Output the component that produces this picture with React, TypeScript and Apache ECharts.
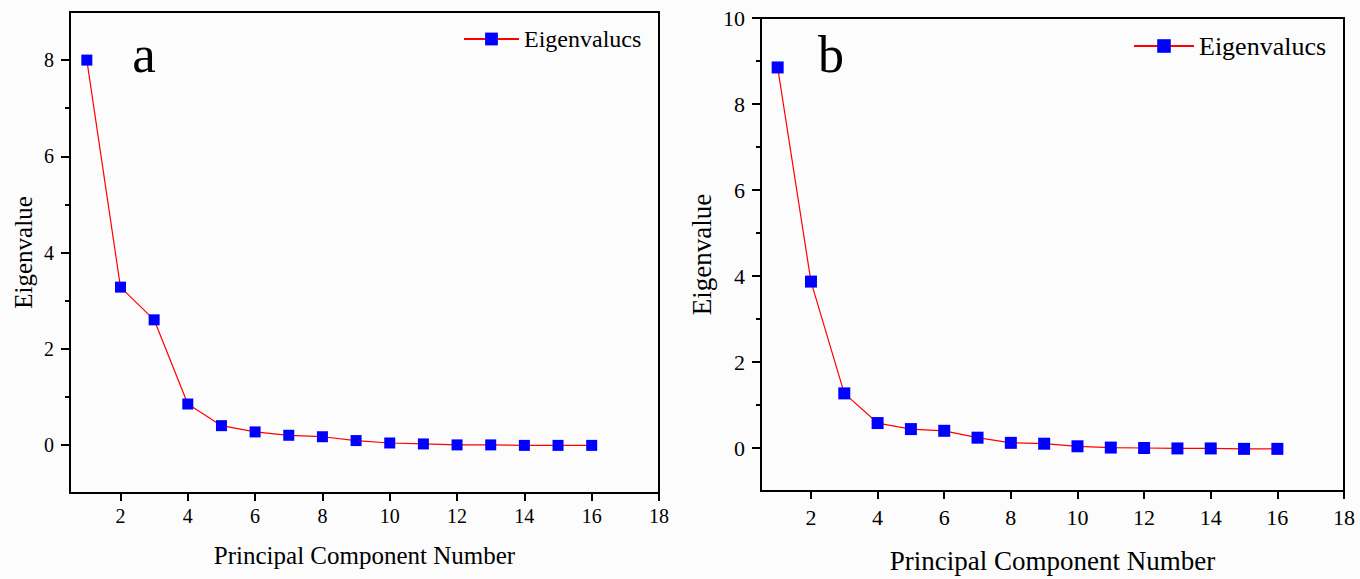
import React, { useEffect, useRef } from "react";
import * as echarts from "echarts";

const componentsA = [1, 2, 3, 4, 5, 6, 7, 8, 9, 10, 11, 12, 13, 14, 15, 16];
const eigenA = [8.0, 3.28, 2.6, 0.85, 0.4, 0.27, 0.2, 0.17, 0.09, 0.04, 0.02, 0.0, 0.0, -0.01, -0.01, -0.01];
const componentsB = [1, 2, 3, 4, 5, 6, 7, 8, 9, 10, 11, 12, 13, 14, 15, 16];
const eigenB = [8.85, 3.87, 1.27, 0.58, 0.44, 0.4, 0.24, 0.12, 0.1, 0.04, 0.01, 0.0, -0.01, -0.01, -0.02, -0.02];
const xTicks = [2, 4, 6, 8, 10, 12, 14, 16, 18];
const yTicksA = [0, 2, 4, 6, 8];
const yMinorA = [1, 3, 5, 7];
const yTicksB = [0, 2, 4, 6, 8, 10];
const yMinorB = [1, 3, 5, 7, 9];
const seriesName = "Eigenvalucs";
const xName = "Principal Component Number";
const yName = "Eigenvalue";

const FONT = "Liberation Serif";

export default function App() {
  const ref = useRef<HTMLDivElement>(null);
  useEffect(() => {
    if (!ref.current) return;
    const chart = echarts.init(ref.current, null, { renderer: "svg" });
    const axisLine = { show: true, onZero: false, lineStyle: { color: "#000", width: 2 } };
    const mkX = (gi: number, fs: number, nfs: number, gap: number, margin: number) => ({
      type: "value",
      gridIndex: gi,
      min: 0.5,
      max: 18,
      name: xName,
      nameLocation: "middle",
      nameGap: gap,
      nameTextStyle: { fontFamily: FONT, fontSize: nfs, color: "#000" },
      axisLine,
      splitLine: { show: false },
      axisTick: { show: true, customValues: xTicks, length: 8, lineStyle: { color: "#000", width: 2 } },
      axisLabel: { show: true, customValues: xTicks, fontFamily: FONT, fontSize: fs, color: "#000", margin },
    });
    const mkY = (gi: number, max: number, ticks: number[], fs: number, nfs: number, gap: number) => ({
      type: "value",
      gridIndex: gi,
      min: -1,
      max,
      name: yName,
      nameLocation: "middle",
      nameGap: gap,
      nameTextStyle: { fontFamily: FONT, fontSize: nfs, color: "#000" },
      axisLine,
      splitLine: { show: false },
      axisTick: { show: true, customValues: ticks, length: 9, lineStyle: { color: "#000", width: 2 } },
      axisLabel: { show: true, customValues: ticks, fontFamily: FONT, fontSize: fs, color: "#000", margin: 16 },
    });
    const mkMinor = (gi: number, max: number, ticks: number[]) => ({
      type: "value",
      gridIndex: gi,
      min: -1,
      max,
      position: "left",
      axisLine: { show: false },
      splitLine: { show: false },
      axisTick: { show: true, customValues: ticks, length: 5, lineStyle: { color: "#000", width: 2 } },
      axisLabel: { show: false },
    });
    const mkSeries = (xi: number, yi: number, xs: number[], ys: number[], size: number) => ({
      type: "line",
      name: seriesName,
      xAxisIndex: xi,
      yAxisIndex: yi,
      data: xs.map((x, i) => [x, ys[i]]),
      symbol: "rect",
      symbolSize: size,
      lineStyle: { color: "#ff0000", width: 1.2 },
      itemStyle: { color: "#0000ff" },
      z: 3,
    });
    chart.setOption({
      animation: false,
      backgroundColor: "#fcfcfc",
      textStyle: { fontFamily: FONT },
      grid: [
        { left: 70, top: 12, right: 701, bottom: 86, show: true, borderColor: "#000", borderWidth: 2, backgroundColor: "transparent" },
        { left: 761, top: 18, right: 16, bottom: 85, show: true, borderColor: "#000", borderWidth: 2, backgroundColor: "transparent" },
      ],
      legend: [
        {
          data: [{ name: seriesName }],
          left: 463,
          top: 27,
          padding: 0,
          itemWidth: 55,
          itemHeight: 16,
          itemGap: 8,
          textStyle: { fontFamily: FONT, fontSize: 24, color: "#000" },
        },
        {
          data: [{ name: seriesName }],
          left: 1133,
          top: 33,
          padding: 0,
          itemWidth: 60,
          itemHeight: 17,
          itemGap: 8,
          textStyle: { fontFamily: FONT, fontSize: 26, color: "#000" },
        },
      ],
      xAxis: [mkX(0, 20, 25, 50, 13), mkX(1, 22, 27, 56, 15)],
      yAxis: [
        mkY(0, 9, yTicksA, 20, 25, 34),
        mkMinor(0, 9, yMinorA),
        mkY(1, 10, yTicksB, 22, 27, 46),
        mkMinor(1, 10, yMinorB),
      ],
      graphic: [
        { type: "text", x: 144, y: 54, style: { text: "a", fontFamily: FONT, fontSize: 53, fill: "#000", align: "center", verticalAlign: "middle" } },
        { type: "text", x: 831, y: 54, style: { text: "b", fontFamily: FONT, fontSize: 52, fill: "#000", align: "center", verticalAlign: "middle" } },
      ],
      series: [mkSeries(0, 0, componentsA, eigenA, 11), mkSeries(1, 2, componentsB, eigenB, 12)],
    });
    return () => chart.dispose();
  }, []);
  return <div ref={ref} style={{ position: "fixed", left: 0, top: 0, width: 1360, height: 579 }} />;
}
